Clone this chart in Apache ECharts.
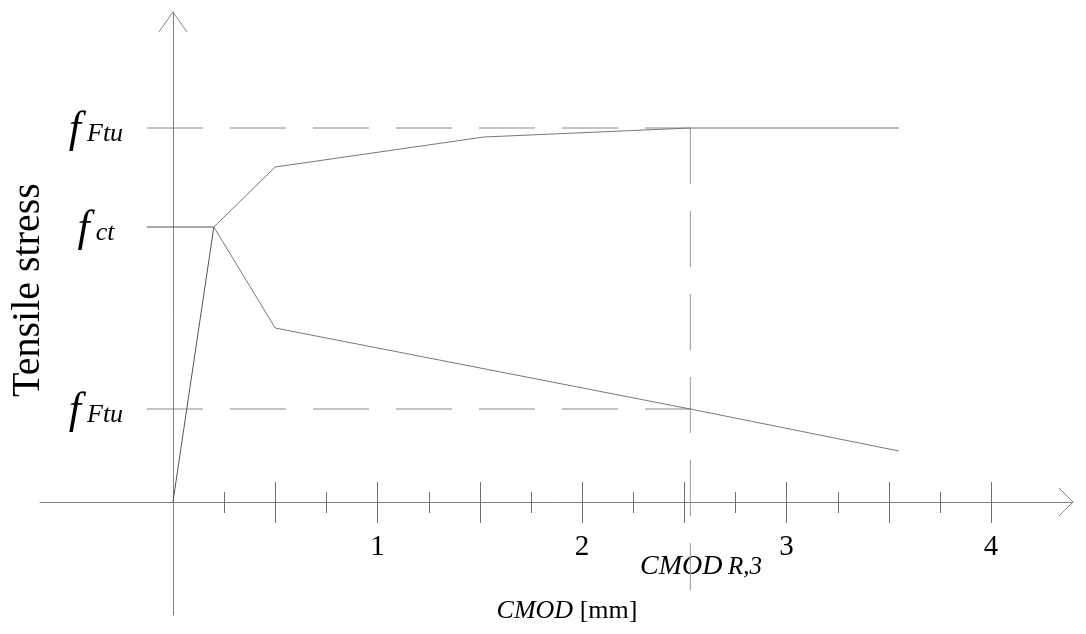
<!DOCTYPE html>
<html>
<head>
<meta charset="utf-8">
<script src="https://cdn.jsdelivr.net/npm/echarts@6/dist/echarts.min.js"></script>
<style>
html,body{margin:0;padding:0;background:#fff;}
#chart{width:1086px;height:634px;}
</style>
</head>
<body>
<div id="chart"></div>
<script>
// ---- data ----
const xRange = [-0.65, 4.401];
const yRange = [-1.13, 4.90];
const fFtuTop = 3.74;
const fCt = 2.75;
const fFtuBot = 0.93;
const peakX = 0.2;
const cmodR3 = 2.53;
const xEnd = 3.55;
const risingX = [0, peakX];
const risingY = [0, fCt];
const upperX = [peakX, 0.5, 1.52, cmodR3, xEnd];
const upperY = [fCt, 3.35, 3.65, fFtuTop, fFtuTop];
const lowerX = [peakX, 0.5, cmodR3, xEnd];
const lowerY = [fCt, 1.74, fFtuBot, 0.51];
const refLineStartX = -0.127;
const vDashBottomY = -0.88;
const xTickLabels = [1, 2, 3, 4];
const majorTicks = [0.5, 1, 1.5, 2, 2.5, 3, 3.5, 4];
const minorTicks = [0.25, 0.75, 1.25, 1.75, 2.25, 2.75, 3.25, 3.75];
const yLabelValues = [fFtuBot, fCt, fFtuTop];
const yLabelTexts = ['Ftu', 'ct', 'Ftu'];

const zip = (xs, ys) => xs.map((x, i) => [x, ys[i]]);
const serif = '"Liberation Serif", "DejaVu Serif", serif';

const chart = echarts.init(document.getElementById('chart'), null, {renderer: 'canvas'});

const tickData = majorTicks.map(v => [v, 1]).concat(minorTicks.map(v => [v, 0]));

const option = {
  animation: false,
  backgroundColor: '#fff',
  grid: {left: 40, right: 13, top: 12, bottom: 19, containLabel: false, outerBoundsMode: 'none'},
  xAxis: {
    type: 'value', min: xRange[0], max: xRange[1],
    axisLine: {show: true, onZero: true, lineStyle: {color: '#808080', width: 1}},
    axisTick: {show: false},
    splitLine: {show: false},
    axisLabel: {show: false}
  },
  yAxis: {
    type: 'value', min: yRange[0], max: yRange[1],
    axisLine: {show: true, onZero: true, lineStyle: {color: '#808080', width: 1}},
    axisTick: {show: false},
    splitLine: {show: false},
    axisLabel: {show: false}
  },
  series: [
    // dashed reference lines
    {type: 'line', symbol: 'none', silent: true, data: [[refLineStartX, fFtuTop], [cmodR3, fFtuTop]],
      lineStyle: {color: '#888', width: 1, type: [56, 27]}},
    {type: 'line', symbol: 'none', silent: true, data: [[refLineStartX, fFtuBot], [cmodR3, fFtuBot]],
      lineStyle: {color: '#888', width: 1, type: [56, 27]}},
    {type: 'line', symbol: 'none', silent: true, data: [[cmodR3, fFtuTop], [cmodR3, vDashBottomY]],
      lineStyle: {color: '#999', width: 1, type: [56, 27]}},
    // solid f_ct line
    {type: 'line', symbol: 'none', silent: true, data: [[refLineStartX, fCt], [peakX, fCt]],
      lineStyle: {color: '#555', width: 1}},
    // curves
    {type: 'line', symbol: 'none', silent: true, data: zip(risingX, risingY),
      lineStyle: {color: '#555', width: 1}},
    {type: 'line', symbol: 'none', silent: true, data: zip(upperX, upperY),
      lineStyle: {color: '#777', width: 1}},
    {type: 'line', symbol: 'none', silent: true, data: zip(lowerX, lowerY),
      lineStyle: {color: '#777', width: 1}},
    // ticks
    {type: 'custom', silent: true, data: tickData,
      renderItem: (params, api) => {
        const p = api.coord([api.value(0), 0]);
        const major = api.value(1) === 1;
        const x = Math.round(p[0]) + 0.5;
        const up = major ? 20 : 10, down = major ? 21 : 11;
        return {type: 'line', shape: {x1: x, y1: p[1] - up, x2: x, y2: p[1] + down},
          style: {stroke: '#707070', lineWidth: 1}};
      }},
    // x tick labels
    {type: 'custom', silent: true, data: xTickLabels.map(v => [v, 0]),
      renderItem: (params, api) => {
        const p = api.coord([api.value(0), 0]);
        return {type: 'text', x: p[0], y: p[1] + 45,
          style: {text: String(api.value(0)), font: '29px ' + serif, fill: '#000', align: 'center', verticalAlign: 'middle'}};
      }},
    // y labels (f Ftu, f ct)
    {type: 'custom', silent: true, data: yLabelValues.map((v, i) => [0, v, i]),
      renderItem: (params, api) => {
        const p = api.coord([0, api.value(1)]);
        const txt = yLabelTexts[api.value(2)];
        return {type: 'text', x: p[0] - 77, y: p[1] + 2,
          style: {text: '{f|f} {s|' + txt + '}', align: 'center', verticalAlign: 'middle',
            font: '24px ' + serif,
            rich: {
              f: {fontFamily: serif, fontStyle: 'italic', fontSize: 44, fill: '#000', verticalAlign: 'bottom'},
              s: {fontFamily: serif, fontStyle: 'italic', fontSize: 26, fill: '#000', verticalAlign: 'bottom', padding: [0, 0, 5, 0]}
            }}};
      }},
    // arrow heads at axis ends
    {type: 'custom', silent: true, data: [[xRange[1], 0, 0], [0, yRange[1], 1]],
      renderItem: (params, api) => {
        const p = api.coord([api.value(0), api.value(1)]);
        const vertical = api.value(2) === 1;
        const pts = vertical
          ? [[p[0] - 14, p[1] + 20], [p[0], p[1]], [p[0] + 14, p[1] + 20]]
          : [[p[0] - 14, p[1] - 14], [p[0], p[1]], [p[0] - 14, p[1] + 14]];
        return {type: 'polyline', shape: {points: pts},
          style: {stroke: '#888', lineWidth: 1, fill: null}};
      }}
  ],
  graphic: [
    {type: 'text', x: 28, y: 290, rotation: Math.PI / 2,
      style: {text: 'Tensile stress', font: '40px ' + serif, fill: '#000', align: 'center', verticalAlign: 'middle'}},
    {type: 'text', x: 701, y: 567,
      style: {text: '{a|CMOD} {b|R,3}', align: 'center', verticalAlign: 'middle', font: '22px ' + serif,
        rich: {a: {fontFamily: serif, fontStyle: 'italic', fontSize: 28, fill: '#000', verticalAlign: 'bottom'},
               b: {fontFamily: serif, fontStyle: 'italic', fontSize: 25, fill: '#000', verticalAlign: 'bottom', padding: [0,0,1,0]}}}},
    {type: 'text', x: 567, y: 611,
      style: {text: '{a|CMOD} {b|[mm]}', align: 'center', verticalAlign: 'middle', font: '26px ' + serif,
        rich: {a: {fontFamily: serif, fontStyle: 'italic', fontSize: 26, fill: '#000'},
               b: {fontFamily: serif, fontSize: 26, fill: '#000'}}}}
  ]
};
chart.setOption(option);
</script>
</body>
</html>
